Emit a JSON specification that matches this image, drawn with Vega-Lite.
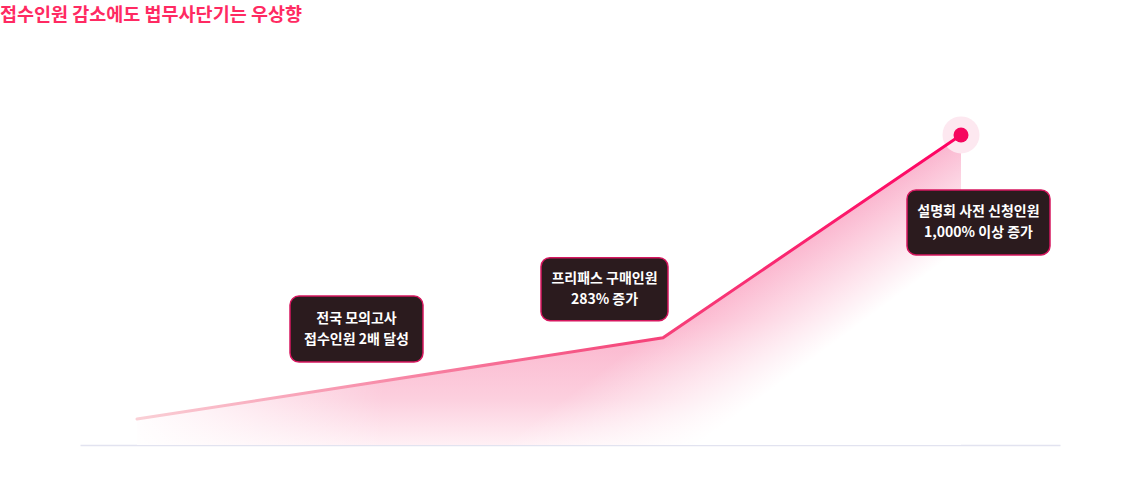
{
  "$schema": "https://vega.github.io/schema/vega-lite/v6.json",
  "width": 980,
  "height": 407,
  "autosize": {"type": "none"},
  "padding": {"left": 80, "top": 38, "right": 80, "bottom": 52},
  "background": "white",
  "title": {
    "text": "접수인원 감소에도 법무사단기는 우상향",
    "anchor": "start",
    "frame": "group",
    "dx": -80,
    "offset": 14,
    "font": "Noto Sans CJK KR",
    "fontSize": 18.5,
    "fontWeight": "bold",
    "color": "#ff2a62"
  },
  "datasets": {
    "steps": [
      {"step": 1, "x": 5.7, "y": 0.35, "label": "전국 모의고사\n접수인원 2배 달성"},
      {"step": 2, "x": 58.3, "y": 1.45, "label": "프리패스 구매인원\n283% 증가"},
      {"step": 3, "x": 88.1, "y": 4.19, "label": "설명회 사전 신청인원\n1,000% 이상 증가"}
    ]
  },
  "data": {"name": "steps"},
  "encoding": {
    "x": {
      "field": "x",
      "type": "quantitative",
      "scale": {"domain": [0, 98], "nice": false, "zero": false},
      "axis": {"title": null, "labels": false, "ticks": false, "grid": false, "domainColor": "#e2e3f0", "domainWidth": 1.5}
    },
    "y": {
      "field": "y",
      "type": "quantitative",
      "scale": {"domain": [0, 5.5], "nice": false},
      "axis": null
    }
  },
  "layer": [
    {
      "mark": {
        "type": "area",
        "fill": {
          "gradient": "linear",
          "x1": 0, "y1": 0, "x2": 0, "y2": 1,
          "stops": [
            {"offset": 0, "color": "#f9a2c2"},
            {"offset": 0.6, "color": "#fbb2cb"},
            {"offset": 0.85, "color": "#fccfde"},
            {"offset": 1, "color": "#fff0f5"}
          ]
        }
      }
    },
    {
      "mark": {
        "type": "area",
        "fill": {
          "gradient": "linear",
          "x1": 0, "y1": 0, "x2": 0.944, "y2": 0.477,
          "stops": [
            {"offset": 0, "color": "rgba(255,255,255,0)"},
            {"offset": 0.8, "color": "rgba(255,255,255,0)"},
            {"offset": 1, "color": "rgba(255,255,255,1)"}
          ]
        }
      }
    },
    {
      "mark": {
        "type": "area",
        "fill": {
          "gradient": "linear",
          "x1": 0, "y1": 0, "x2": 0.3, "y2": 0,
          "stops": [
            {"offset": 0, "color": "rgba(255,255,255,0.95)"},
            {"offset": 1, "color": "rgba(255,255,255,0)"}
          ]
        }
      }
    },
    {
      "transform": [{"filter": "datum.step == 3"}],
      "mark": {"type": "circle", "size": 1369, "color": "#fde8f0", "opacity": 1}
    },
    {
      "mark": {
        "type": "line",
        "strokeWidth": 3,
        "strokeCap": "round",
        "stroke": {
          "gradient": "linear",
          "x1": 0, "y1": 0, "x2": 1, "y2": 0,
          "stops": [
            {"offset": 0, "color": "#fad0d6"},
            {"offset": 0.6, "color": "#f5487c"},
            {"offset": 1, "color": "#ff0062"}
          ]
        }
      }
    },
    {
      "transform": [{"filter": "datum.step == 3"}],
      "mark": {"type": "circle", "size": 225, "color": "#f5065e", "opacity": 1}
    },
    {
      "transform": [{"filter": "datum.step == 1"}],
      "layer": [
        {"mark": {"type": "rect", "width": 133, "height": 66, "xOffset": 219.5, "yOffset": -90, "cornerRadius": 9, "fill": "#2b1b1e", "stroke": "#d6175f", "strokeWidth": 1.5}},
        {
          "mark": {"type": "text", "xOffset": 219.5, "yOffset": -100.5, "lineBreak": "\n", "align": "center", "baseline": "middle", "font": "Noto Sans CJK KR", "fontSize": 14, "fontWeight": "bold", "lineHeight": 21, "color": "white"},
          "encoding": {"text": {"field": "label"}}
        }
      ]
    },
    {
      "transform": [{"filter": "datum.step == 2"}],
      "layer": [
        {"mark": {"type": "rect", "width": 127, "height": 63, "xOffset": -58.5, "yOffset": -48.5, "cornerRadius": 9, "fill": "#2b1b1e", "stroke": "#d6175f", "strokeWidth": 1.5}},
        {
          "mark": {"type": "text", "xOffset": -58.5, "yOffset": -59, "lineBreak": "\n", "align": "center", "baseline": "middle", "font": "Noto Sans CJK KR", "fontSize": 14, "fontWeight": "bold", "lineHeight": 21, "color": "white"},
          "encoding": {"text": {"field": "label"}}
        }
      ]
    },
    {
      "transform": [{"filter": "datum.step == 3"}],
      "layer": [
        {"mark": {"type": "rect", "width": 143, "height": 65, "xOffset": 17.5, "yOffset": 87.5, "cornerRadius": 9, "fill": "#2b1b1e", "stroke": "#d6175f", "strokeWidth": 1.5}},
        {
          "mark": {"type": "text", "xOffset": 17.5, "yOffset": 77, "lineBreak": "\n", "align": "center", "baseline": "middle", "font": "Noto Sans CJK KR", "fontSize": 14, "fontWeight": "bold", "lineHeight": 21, "color": "white"},
          "encoding": {"text": {"field": "label"}}
        }
      ]
    }
  ],
  "config": {"view": {"stroke": null}}
}
